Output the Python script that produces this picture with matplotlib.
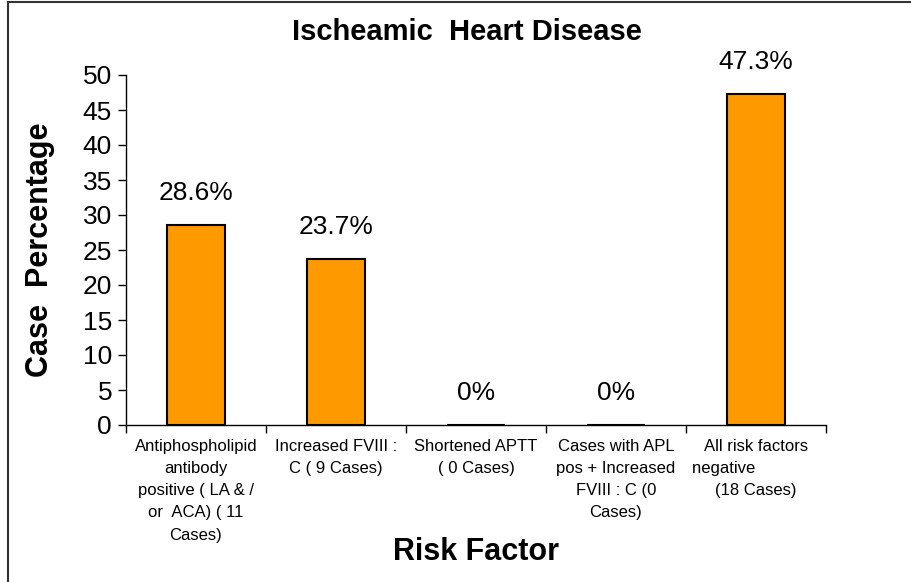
import matplotlib
matplotlib.use("Agg")
import matplotlib.pyplot as plt
from matplotlib.lines import Line2D
import numpy as np

categories = [
    "Antiphospholipid\nantibody\npositive ( LA & /\nor  ACA) ( 11\nCases)",
    "Increased FVIII :\nC ( 9 Cases)",
    "Shortened APTT\n( 0 Cases)",
    "Cases with APL\npos + Increased\nFVIII : C (0\nCases)",
    "All risk factors\nnegative              \n(18 Cases)",
]
values = [28.6, 23.7, 0, 0, 47.3]
value_labels = ["28.6%", "23.7%", "0%", "0%", "47.3%"]
yticks = [0, 5, 10, 15, 20, 25, 30, 35, 40, 45, 50]

plt.rcParams['font.family'] = ['Liberation Sans', 'DejaVu Sans']

W, H = 911, 582
fig = plt.figure(figsize=(W / 100, H / 100), dpi=100)
ax = fig.add_axes([126 / W, 1 - 425 / H, (826 - 126) / W, (425 - 75) / H])

x = np.arange(len(categories))
ax.bar(x, values, width=0.42, color="#FF9900", edgecolor="black", linewidth=1.5, zorder=3)

for xi, v, lab in zip(x, values, value_labels):
    ax.annotate(lab, (xi, v), xytext=(0, 23), textcoords="offset points",
                ha="center", va="center", fontsize=19)

ax.set_xlim(-0.5, len(categories) - 0.5)
ax.set_ylim(0, 50)
ax.set_yticks(yticks)
ax.set_yticklabels([str(t) for t in yticks], fontsize=19)
ax.tick_params(axis="y", direction="out", length=6, width=1, pad=4)

# category separators as major ticks, labels at minor positions
ax.set_xticks(np.arange(-0.5, len(categories), 1.0))
ax.set_xticklabels([])
ax.tick_params(axis="x", which="major", direction="out", length=6, width=1)
ax.set_xticks(x, minor=True)
ax.set_xticklabels(categories, minor=True, fontsize=12, linespacing=1.6)
ax.tick_params(axis="x", which="minor", length=0, pad=10)

for s in ["top", "right"]:
    ax.spines[s].set_visible(False)
for s in ["left", "bottom"]:
    ax.spines[s].set_linewidth(1)

fig.text(467 / W, 1 - 32 / H, "Ischeamic  Heart Disease", ha="center", va="center",
         fontsize=21, fontweight="bold")
fig.text(476 / W, 1 - 552 / H, "Risk Factor", ha="center", va="center",
         fontsize=22, fontweight="bold")
fig.text(40 / W, 1 - 250 / H, "Case  Percentage", ha="center", va="center",
         rotation=90, fontsize=22, fontweight="bold")

# outer frame (top and left)
fig.add_artist(Line2D([8 / W, 1.0], [1 - 2 / H, 1 - 2 / H], transform=fig.transFigure,
                      color="#333333", linewidth=1.5))
fig.add_artist(Line2D([8 / W, 8 / W], [0, 1 - 2 / H], transform=fig.transFigure,
                      color="#333333", linewidth=1.5))

fig.savefig("out.png", dpi=100)
